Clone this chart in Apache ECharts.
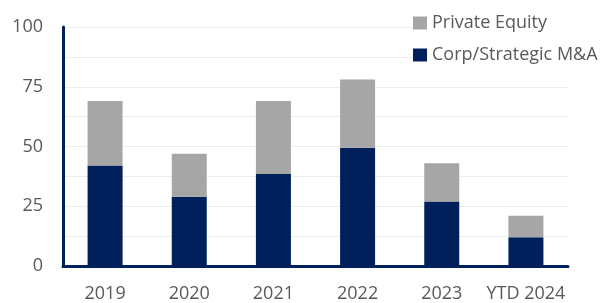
<!DOCTYPE html>
<html>
<head>
<meta charset="utf-8">
<script src="https://cdn.jsdelivr.net/npm/echarts@6/dist/echarts.min.js"></script>
<style>
  html, body { margin: 0; padding: 0; background: #fff; }
  #chart { width: 607px; height: 303px; }
</style>
</head>
<body>
<div id="chart"></div>
<script>
// values
var categories = ['2019', '2020', '2021', '2022', '2023', 'YTD 2024'];
var corpValues = [42, 29, 38.5, 49.5, 27, 12];
var peValues = [27, 18, 30.5, 28.5, 16, 9];
var yTicks = [0, 25, 50, 75, 100];

var navy = '#00205B';
var grey = '#A6A6A6';
var font = '"Open Sans", sans-serif';

var chart = echarts.init(document.getElementById('chart'));
chart.setOption({
    animation: false,
    textStyle: { fontFamily: font },
    grid: { left: 63, right: 39, top: 27, bottom: 37 },
    legend: {
        orient: 'vertical',
        left: 413,
        top: 14,
        itemWidth: 14,
        itemHeight: 13,
        itemGap: 14,
        icon: 'rect',
        backgroundColor: '#fff',
        padding: 0,
        data: ['Private Equity', 'Corp/Strategic M&A'],
        textStyle: { fontSize: 18, color: '#595959', lineHeight: 18, padding: [0, 0, 0, 0] }
    },
    xAxis: {
        type: 'category',
        data: categories,
        axisTick: { show: false },
        axisLine: { lineStyle: { color: navy, width: 3 } },
        axisLabel: { fontSize: 18, color: '#595959', margin: 19, interval: 0 }
    },
    yAxis: {
        type: 'value',
        min: 0,
        max: 100,
        interval: 12.5,
        axisLine: { show: true, lineStyle: { color: navy, width: 3 } },
        axisTick: { show: false },
        splitLine: { lineStyle: { color: '#EDEDED', width: 1 } },
        axisLabel: {
            fontSize: 18,
            color: '#595959',
            margin: 20,
            formatter: function (v) {
                return yTicks.indexOf(v) >= 0 ? String(v) : '';
            }
        }
    },
    series: [
        {
            name: 'Corp/Strategic M&A',
            type: 'bar',
            stack: 'total',
            barWidth: 35,
            itemStyle: { color: navy },
            data: corpValues
        },
        {
            name: 'Private Equity',
            type: 'bar',
            stack: 'total',
            barWidth: 35,
            itemStyle: { color: grey },
            data: peValues
        }
    ]
});
</script>
</body>
</html>
